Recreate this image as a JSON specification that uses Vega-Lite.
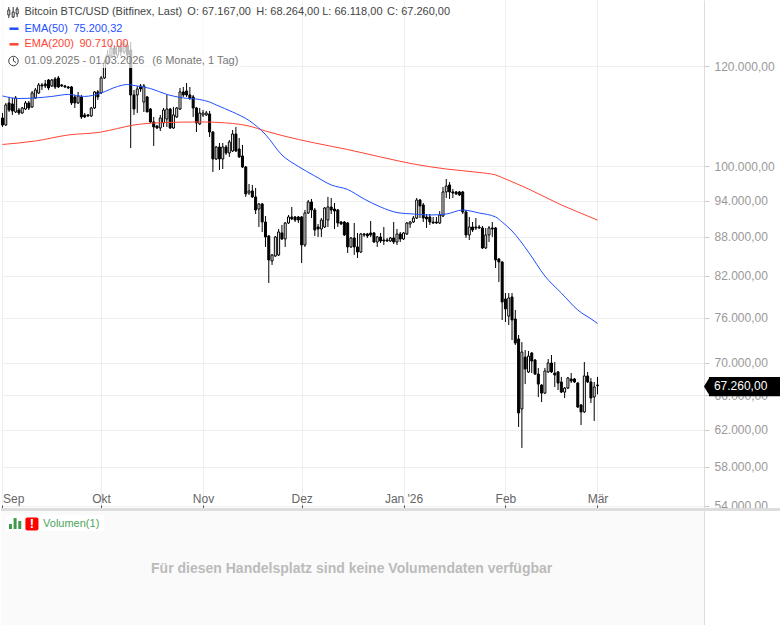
{"$schema":"https://vega.github.io/schema/vega-lite/v6.json","width":703,"height":625,"padding":0,"background":"#ffffff","config":{"view":{"stroke":null},"font":"Liberation Sans","axis":{"labelFont":"Liberation Sans"},"scale":{"continuousPadding":0}},
"datasets":{"candles":[
{"date":"2025-09-01","open":109200,"high":110190,"low":107430,"close":107820},
{"date":"2025-09-02","open":107820,"high":112210,"low":107620,"close":111810},
{"date":"2025-09-03","open":112210,"high":113450,"low":110390,"close":110790},
{"date":"2025-09-04","open":112010,"high":113240,"low":109800,"close":110590},
{"date":"2025-09-05","open":110390,"high":113650,"low":110190,"close":113240},
{"date":"2025-09-06","open":110790,"high":111200,"low":109800,"close":110190},
{"date":"2025-09-07","open":110190,"high":111400,"low":110000,"close":111200},
{"date":"2025-09-08","open":110990,"high":112620,"low":110790,"close":112210},
{"date":"2025-09-09","open":112210,"high":112620,"low":110790,"close":111200},
{"date":"2025-09-10","open":111400,"high":114680,"low":111200,"close":114270},
{"date":"2025-09-11","open":113240,"high":115310,"low":113030,"close":114890},
{"date":"2025-09-12","open":114270,"high":116360,"low":114070,"close":115940},
{"date":"2025-09-13","open":115940,"high":116360,"low":114890,"close":115730},
{"date":"2025-09-14","open":116150,"high":116990,"low":115310,"close":115730},
{"date":"2025-09-15","open":116990,"high":117200,"low":114890,"close":115310},
{"date":"2025-09-16","open":115730,"high":117200,"low":115520,"close":116990},
{"date":"2025-09-17","open":117200,"high":117630,"low":115100,"close":115520},
{"date":"2025-09-18","open":117420,"high":117850,"low":115310,"close":115520},
{"date":"2025-09-19","open":115940,"high":116150,"low":115520,"close":115730},
{"date":"2025-09-20","open":115730,"high":115940,"low":115310,"close":115520},
{"date":"2025-09-21","open":115520,"high":115730,"low":115100,"close":115310},
{"date":"2025-09-22","open":115520,"high":115730,"low":111810,"close":112210},
{"date":"2025-09-23","open":113450,"high":113860,"low":111200,"close":112210},
{"date":"2025-09-24","open":112210,"high":114480,"low":112010,"close":113650},
{"date":"2025-09-25","open":113450,"high":113860,"low":109000,"close":109400},
{"date":"2025-09-26","open":109800,"high":110190,"low":109200,"close":109400},
{"date":"2025-09-27","open":109800,"high":110000,"low":109400,"close":109600},
{"date":"2025-09-28","open":109600,"high":111400,"low":109400,"close":111200},
{"date":"2025-09-29","open":111200,"high":114680,"low":110990,"close":114480},
{"date":"2025-09-30","open":114480,"high":114890,"low":112820,"close":113450},
{"date":"2025-10-01","open":114270,"high":117850,"low":114070,"close":117420},
{"date":"2025-10-02","open":117420,"high":121310,"low":117200,"close":120650},
{"date":"2025-10-03","open":120650,"high":123530,"low":120220,"close":122420},
{"date":"2025-10-04","open":122200,"high":124870,"low":121760,"close":123980},
{"date":"2025-10-05","open":123980,"high":124650,"low":122200,"close":122640},
{"date":"2025-10-06","open":122420,"high":125800,"low":121760,"close":124420},
{"date":"2025-10-07","open":124420,"high":125330,"low":122200,"close":123090},
{"date":"2025-10-08","open":123090,"high":125800,"low":122640,"close":124870},
{"date":"2025-10-09","open":124650,"high":125330,"low":121310,"close":122420},
{"date":"2025-10-10","open":123530,"high":125330,"low":103410,"close":113860},
{"date":"2025-10-11","open":113860,"high":114890,"low":109800,"close":110990},
{"date":"2025-10-12","open":113860,"high":115730,"low":110190,"close":115100},
{"date":"2025-10-13","open":115730,"high":116150,"low":114480,"close":115100},
{"date":"2025-10-14","open":112410,"high":116150,"low":110390,"close":115730},
{"date":"2025-10-15","open":113450,"high":113650,"low":110390,"close":110390},
{"date":"2025-10-16","open":110990,"high":111200,"low":108210,"close":108410},
{"date":"2025-10-17","open":108410,"high":109400,"low":103790,"close":107430},
{"date":"2025-10-18","open":107620,"high":107820,"low":107040,"close":107230},
{"date":"2025-10-19","open":107230,"high":109800,"low":106650,"close":109200},
{"date":"2025-10-20","open":108210,"high":111200,"low":107430,"close":110790},
{"date":"2025-10-21","open":109000,"high":113860,"low":107430,"close":110990},
{"date":"2025-10-22","open":110990,"high":111200,"low":107040,"close":107230},
{"date":"2025-10-23","open":107230,"high":111400,"low":107040,"close":109800},
{"date":"2025-10-24","open":109400,"high":111400,"low":109200,"close":111200},
{"date":"2025-10-25","open":110990,"high":115310,"low":110790,"close":114480},
{"date":"2025-10-26","open":114480,"high":115520,"low":113450,"close":113860},
{"date":"2025-10-27","open":114680,"high":116360,"low":113450,"close":113860},
{"date":"2025-10-28","open":113860,"high":115520,"low":112820,"close":113240},
{"date":"2025-10-29","open":113450,"high":113860,"low":109400,"close":111200},
{"date":"2025-10-30","open":111200,"high":111400,"low":106450,"close":108210},
{"date":"2025-10-31","open":108020,"high":111200,"low":107820,"close":110190},
{"date":"2025-11-01","open":109800,"high":110790,"low":109400,"close":110190},
{"date":"2025-11-02","open":109800,"high":110590,"low":109600,"close":110190},
{"date":"2025-11-03","open":110000,"high":110590,"low":105500,"close":106450},
{"date":"2025-11-04","open":106450,"high":106650,"low":99000,"close":101370},
{"date":"2025-11-05","open":101370,"high":103790,"low":101180,"close":103600},
{"date":"2025-11-06","open":103600,"high":104350,"low":99360,"close":101370},
{"date":"2025-11-07","open":101370,"high":104350,"low":99540,"close":103600},
{"date":"2025-11-08","open":103600,"high":103980,"low":102110,"close":102480},
{"date":"2025-11-09","open":102480,"high":104920,"low":101740,"close":104540},
{"date":"2025-11-10","open":102850,"high":106840,"low":102660,"close":106070},
{"date":"2025-11-11","open":106070,"high":107430,"low":102660,"close":102850},
{"date":"2025-11-12","open":103220,"high":105310,"low":101550,"close":101740},
{"date":"2025-11-13","open":101920,"high":103980,"low":99720,"close":99910},
{"date":"2025-11-14","open":99910,"high":100090,"low":94620,"close":95130},
{"date":"2025-11-15","open":95300,"high":96870,"low":94960,"close":95650},
{"date":"2025-11-16","open":95650,"high":96700,"low":94440,"close":94620},
{"date":"2025-11-17","open":94620,"high":96170,"low":91730,"close":92400},
{"date":"2025-11-18","open":92570,"high":93590,"low":89600,"close":93420},
{"date":"2025-11-19","open":93420,"high":93590,"low":88790,"close":90410},
{"date":"2025-11-20","open":90410,"high":91400,"low":86410,"close":87990},
{"date":"2025-11-21","open":88150,"high":88310,"low":80940,"close":84390},
{"date":"2025-11-22","open":84240,"high":85310,"low":83630,"close":85160},
{"date":"2025-11-23","open":85000,"high":88150,"low":84850,"close":87990},
{"date":"2025-11-24","open":85160,"high":89270,"low":85000,"close":88790},
{"date":"2025-11-25","open":88630,"high":89930,"low":87510,"close":87670},
{"date":"2025-11-26","open":87670,"high":90410,"low":86410,"close":90250},
{"date":"2025-11-27","open":90250,"high":91570,"low":90090,"close":91240},
{"date":"2025-11-28","open":91240,"high":92910,"low":90740,"close":90910},
{"date":"2025-11-29","open":91240,"high":91400,"low":90410,"close":90740},
{"date":"2025-11-30","open":91240,"high":91400,"low":90250,"close":90740},
{"date":"2025-12-01","open":91240,"high":91400,"low":83930,"close":86720},
{"date":"2025-12-02","open":86720,"high":92400,"low":86410,"close":91900},
{"date":"2025-12-03","open":91900,"high":94100,"low":91730,"close":93760},
{"date":"2025-12-04","open":93760,"high":94270,"low":91070,"close":92400},
{"date":"2025-12-05","open":92400,"high":92740,"low":88150,"close":89110},
{"date":"2025-12-06","open":89600,"high":90090,"low":87990,"close":89270},
{"date":"2025-12-07","open":89270,"high":91070,"low":87990,"close":90740},
{"date":"2025-12-08","open":89600,"high":92910,"low":89440,"close":92740},
{"date":"2025-12-09","open":90740,"high":94620,"low":89600,"close":92910},
{"date":"2025-12-10","open":92910,"high":94440,"low":91730,"close":92400},
{"date":"2025-12-11","open":92570,"high":93590,"low":89270,"close":92230},
{"date":"2025-12-12","open":92400,"high":92570,"low":89600,"close":90250},
{"date":"2025-12-13","open":90410,"high":90580,"low":89930,"close":90090},
{"date":"2025-12-14","open":90410,"high":90580,"low":88150,"close":88310},
{"date":"2025-12-15","open":90250,"high":90410,"low":85470,"close":86410},
{"date":"2025-12-16","open":86410,"high":87990,"low":86250,"close":87830},
{"date":"2025-12-17","open":87830,"high":90250,"low":85160,"close":86410},
{"date":"2025-12-18","open":86410,"high":88630,"low":84690,"close":85620},
{"date":"2025-12-19","open":85620,"high":88630,"low":85470,"close":88470},
{"date":"2025-12-20","open":88470,"high":88630,"low":87990,"close":88310},
{"date":"2025-12-21","open":88470,"high":88630,"low":87830,"close":88150},
{"date":"2025-12-22","open":88630,"high":90580,"low":87990,"close":88310},
{"date":"2025-12-23","open":88630,"high":88790,"low":87040,"close":87190},
{"date":"2025-12-24","open":87190,"high":88150,"low":86410,"close":87990},
{"date":"2025-12-25","open":87990,"high":88630,"low":87040,"close":87350},
{"date":"2025-12-26","open":87510,"high":89600,"low":86720,"close":87350},
{"date":"2025-12-27","open":87510,"high":87830,"low":87190,"close":87350},
{"date":"2025-12-28","open":87350,"high":87990,"low":87190,"close":87830},
{"date":"2025-12-29","open":87830,"high":90410,"low":86880,"close":87190},
{"date":"2025-12-30","open":87190,"high":89270,"low":86720,"close":88470},
{"date":"2025-12-31","open":88470,"high":88790,"low":87190,"close":87670},
{"date":"2026-01-01","open":87670,"high":88790,"low":87510,"close":88630},
{"date":"2026-01-02","open":88470,"high":90410,"low":88310,"close":90250},
{"date":"2026-01-03","open":90090,"high":90580,"low":89440,"close":90410},
{"date":"2026-01-04","open":90410,"high":91400,"low":90250,"close":91070},
{"date":"2026-01-05","open":91070,"high":94440,"low":90910,"close":94100},
{"date":"2026-01-06","open":94100,"high":94270,"low":91070,"close":93080},
{"date":"2026-01-07","open":93250,"high":93590,"low":90410,"close":91070},
{"date":"2026-01-08","open":91240,"high":91730,"low":89440,"close":90910},
{"date":"2026-01-09","open":91240,"high":91730,"low":89930,"close":90410},
{"date":"2026-01-10","open":90410,"high":91240,"low":90090,"close":90250},
{"date":"2026-01-11","open":90410,"high":91240,"low":90090,"close":90250},
{"date":"2026-01-12","open":90250,"high":92230,"low":90090,"close":91570},
{"date":"2026-01-13","open":91400,"high":96350,"low":91240,"close":95480},
{"date":"2026-01-14","open":95480,"high":97750,"low":94440,"close":96520},
{"date":"2026-01-15","open":96700,"high":97220,"low":94270,"close":95480},
{"date":"2026-01-16","open":95480,"high":96000,"low":94440,"close":95300},
{"date":"2026-01-17","open":95480,"high":95650,"low":94960,"close":95130},
{"date":"2026-01-18","open":95480,"high":95650,"low":94790,"close":94960},
{"date":"2026-01-19","open":95480,"high":95650,"low":91730,"close":92070},
{"date":"2026-01-20","open":92070,"high":92400,"low":87830,"close":88310},
{"date":"2026-01-21","open":88310,"high":91240,"low":87510,"close":89600},
{"date":"2026-01-22","open":89600,"high":90410,"low":88790,"close":89110},
{"date":"2026-01-23","open":89600,"high":91070,"low":89110,"close":89440},
{"date":"2026-01-24","open":89600,"high":89930,"low":89270,"close":89440},
{"date":"2026-01-25","open":89440,"high":89760,"low":86090,"close":86250},
{"date":"2026-01-26","open":86250,"high":89440,"low":86090,"close":88310},
{"date":"2026-01-27","open":88310,"high":89760,"low":87190,"close":89440},
{"date":"2026-01-28","open":89440,"high":90410,"low":87990,"close":89270},
{"date":"2026-01-29","open":89440,"high":89600,"low":83170,"close":84390},
{"date":"2026-01-30","open":84540,"high":84690,"low":81090,"close":84080},
{"date":"2026-01-31","open":84080,"high":84240,"low":75680,"close":78190},
{"date":"2026-02-01","open":78620,"high":79480,"low":75400,"close":77210},
{"date":"2026-02-02","open":76220,"high":79480,"low":75000,"close":78770},
{"date":"2026-02-03","open":78910,"high":79480,"low":72980,"close":75680},
{"date":"2026-02-04","open":75820,"high":77070,"low":72320,"close":72580},
{"date":"2026-02-05","open":73120,"high":73650,"low":62330,"close":63930},
{"date":"2026-02-06","open":64400,"high":72710,"low":60000,"close":71410},
{"date":"2026-02-07","open":70750,"high":71670,"low":67370,"close":69240},
{"date":"2026-02-08","open":68870,"high":71540,"low":68740,"close":70880},
{"date":"2026-02-09","open":71280,"high":71410,"low":68740,"close":70250},
{"date":"2026-02-10","open":70380,"high":70510,"low":68490,"close":68610},
{"date":"2026-02-11","open":68610,"high":69370,"low":65800,"close":67370},
{"date":"2026-02-12","open":67250,"high":67370,"low":65210,"close":66280},
{"date":"2026-02-13","open":66280,"high":69370,"low":66160,"close":68990},
{"date":"2026-02-14","open":68870,"high":70510,"low":68740,"close":70000},
{"date":"2026-02-15","open":70000,"high":71020,"low":68740,"close":68870},
{"date":"2026-02-16","open":68740,"high":70120,"low":67020,"close":68490},
{"date":"2026-02-17","open":68870,"high":68990,"low":66650,"close":67500},
{"date":"2026-02-18","open":67630,"high":68250,"low":66280,"close":66400},
{"date":"2026-02-19","open":66400,"high":67020,"low":65690,"close":66890},
{"date":"2026-02-20","open":66890,"high":68250,"low":66770,"close":68120},
{"date":"2026-02-21","open":68000,"high":68740,"low":67500,"close":67750},
{"date":"2026-02-22","open":68000,"high":68120,"low":67500,"close":67630},
{"date":"2026-02-23","open":67500,"high":67630,"low":64520,"close":64620},
{"date":"2026-02-24","open":64860,"high":64980,"low":62550,"close":64050},
{"date":"2026-02-25","open":64050,"high":70120,"low":63930,"close":68370},
{"date":"2026-02-26","open":68370,"high":68870,"low":67500,"close":67630},
{"date":"2026-02-27","open":67630,"high":68120,"low":65090,"close":65690},
{"date":"2026-02-28","open":65810,"high":67630,"low":63010,"close":67020},
{"date":"2026-03-01","open":67167,"high":68264,"low":66118,"close":67260}
],
"ema50":[
{"date":"2025-09-01","price":113650},{"date":"2025-09-06","price":113130},{"date":"2025-09-11","price":113240},{"date":"2025-09-16","price":113550},{"date":"2025-09-21","price":113960},{"date":"2025-09-26","price":113550},{"date":"2025-10-01","price":114270},{"date":"2025-10-06","price":115620},{"date":"2025-10-09","price":116040},{"date":"2025-10-11","price":115830},{"date":"2025-10-16","price":115200},{"date":"2025-10-21","price":113960},{"date":"2025-10-26","price":113240},{"date":"2025-10-31","price":112920},{"date":"2025-11-03","price":112410},{"date":"2025-11-05","price":111810},{"date":"2025-11-10","price":110390},{"date":"2025-11-15","price":108700},{"date":"2025-11-20","price":105970},{"date":"2025-11-25","price":102110},{"date":"2025-11-30","price":100000},{"date":"2025-12-05","price":98290},{"date":"2025-12-10","price":96700},{"date":"2025-12-15","price":95900},{"date":"2025-12-20","price":94270},{"date":"2025-12-25","price":92910},{"date":"2025-12-30","price":91980},{"date":"2026-01-04","price":91730},{"date":"2026-01-09","price":91570},{"date":"2026-01-14","price":91730},{"date":"2026-01-19","price":92400},{"date":"2026-01-24","price":91900},{"date":"2026-01-29","price":91240},{"date":"2026-01-31","price":90410},{"date":"2026-02-03","price":88950},{"date":"2026-02-08","price":85620},{"date":"2026-02-13","price":81970},{"date":"2026-02-18","price":79480},{"date":"2026-02-23","price":77070},{"date":"2026-02-28","price":75540},{"date":"2026-03-01","price":75200}],
"ema200":[
{"date":"2025-09-01","price":104070},{"date":"2025-09-11","price":104730},{"date":"2025-09-21","price":105880},{"date":"2025-10-01","price":106450},{"date":"2025-10-06","price":107130},{"date":"2025-10-11","price":107820},{"date":"2025-10-21","price":108310},{"date":"2025-10-31","price":108410},{"date":"2025-11-10","price":108110},{"date":"2025-11-15","price":107620},{"date":"2025-11-20","price":106650},{"date":"2025-11-25","price":105780},{"date":"2025-12-05","price":104350},{"date":"2025-12-15","price":103120},{"date":"2025-12-25","price":101740},{"date":"2026-01-04","price":100450},{"date":"2026-01-14","price":99540},{"date":"2026-01-24","price":98910},{"date":"2026-01-29","price":98470},{"date":"2026-02-01","price":97750},{"date":"2026-02-08","price":96000},{"date":"2026-02-18","price":93250},{"date":"2026-02-28","price":90950},{"date":"2026-03-01","price":90710}]},
"encoding":{
"x":{"field":"date","type":"temporal","scale":{"type":"utc","padding":0,"domain":["2025-08-31T13:04:00Z","2026-04-02T09:36:00Z"]},"axis":{"orient":"top","offset":-508,"values":["2025-09-01","2025-10-01","2025-11-01","2025-12-01","2026-01-01","2026-02-01","2026-03-01"],"labelExpr":"{'8':'Sep','9':'Okt','10':'Nov','11':'Dez','0':\"Jan '26\",'1':'Feb','2':'Mär'}[utcmonth(datum.value)]","title":null,"domain":false,"ticks":true,"tickSize":3,"tickColor":"#555555","labelColor":"#666666","labelFontSize":12,"labelPadding":0,"labelFlush":5,"labelOverlap":false,"grid":true,"gridColor":"#eeeeee"}},
"y":{"field":"price","type":"quantitative","scale":{"type":"log","domain":[43510,135270],"nice":false,"zero":false},"axis":{"orient":"right","values":[120000,100000,94000,88000,82000,76000,70000,66000,62000,58000,54000],"labelExpr":"replace(replace(replace(format(datum.value,',.2f'),',','#'),'.',','),'#','.')","title":null,"domain":true,"domainColor":"#dddddd","ticks":true,"tickSize":5,"tickColor":"#cccccc","labelColor":"#999999","labelFontSize":12,"labelPadding":5,"labelOverlap":false,"labelBound":false,"grid":true,"gridColor":"#eeeeee"}}},
"layer":[
{"data":{"name":"candles"},"mark":{"type":"rule","color":"#000000","strokeWidth":1},"encoding":{"y":{"field":"low","type":"quantitative","scale":{"type":"log","domain":[43510,135270],"nice":false,"zero":false}},"y2":{"field":"high"}}},
{"data":{"name":"candles"},"mark":{"type":"bar","size":2,"stroke":"#000000","strokeWidth":1,"orient":"vertical"},"encoding":{"y":{"field":"open","type":"quantitative","scale":{"type":"log","domain":[43510,135270],"nice":false,"zero":false}},"y2":{"field":"close"},"fill":{"condition":{"test":"datum.close>=datum.open","value":"#ffffff"},"value":"#000000"}}},
{"data":{"name":"ema200"},"mark":{"type":"line","color":"#ff4433","strokeWidth":1,"interpolate":"monotone"}},
{"data":{"name":"ema50"},"mark":{"type":"line","color":"#1f4fff","strokeWidth":1,"interpolate":"monotone"}},
{"data":{"values":[
{"date":"2025-08-31T13:04:00Z","date2":"2026-04-02T09:36:00Z","price":53510,"price2":43510,"part":"panel"},
{"date":"2025-09-02","date2":"2025-10-02","price":53150,"price2":51600,"part":"label"},
{"date":"2025-08-31T13:04:00Z","date2":"2026-04-26T18:43:00Z","price":53800,"price2":53510,"part":"separator"},
{"date":"2026-04-02T18:00:00Z","date2":"2026-04-26T18:43:00Z","price":53510,"price2":52400,"part":"strip"},
{"date":"2025-08-31T13:04:00Z","date2":"2025-11-12T15:00:00Z","price":119560,"price2":135270,"part":"overlay"},
{"date":"2026-04-03T22:00:00Z","date2":"2026-04-26T18:43:00Z","price":68250,"price2":65900,"part":"tag"}]},
"mark":{"type":"rect"},"encoding":{"x2":{"field":"date2"},"y2":{"field":"price2"},"fill":{"field":"part","type":"nominal","legend":null,"scale":{"domain":["panel","label","separator","strip","overlay","tag"],"range":["#fafafa","#ffffff","#dddddd","#ffffff","rgba(255,255,255,0.72)","#000000"]}}}},
{"data":{"values":[{"date":"2026-04-03T07:00:00Z","price":67090}]},"mark":{"type":"point","filled":true,"color":"#000000","opacity":1,"size":36,"shape":"M-1,0 L1,-3.2 L1,3.2 Z"}},
{"data":{"values":[
{"date":"2025-09-03T03:00:00Z","date2":"2025-09-05T21:00:00Z","price":128400,"kind":"ema50"},
{"date":"2025-09-03T03:00:00Z","date2":"2025-09-05T21:00:00Z","price":124820,"kind":"ema200"}]},
"mark":{"type":"rule","strokeWidth":2.5},"encoding":{"x2":{"field":"date2"},"color":{"field":"kind","type":"nominal","legend":null,"scale":{"domain":["main","ema50","ema200","range"],"range":["#444444","#1f4fff","#ff4433","#777777"]}}}},
{"data":{"values":[
{"date":"2025-09-02T22:00:00Z","low":130920,"high":133560,"open":131640,"close":132840},
{"date":"2025-09-04T06:00:00Z","low":130920,"high":133560,"open":131150,"close":132350},
{"date":"2025-09-05T11:00:00Z","low":131150,"high":133560,"open":131880,"close":133080}]},
"mark":{"type":"rule","color":"#333333","strokeWidth":1},"encoding":{"y":{"field":"low","type":"quantitative","scale":{"type":"log","domain":[43510,135270],"nice":false,"zero":false}},"y2":{"field":"high"}}},
{"data":{"values":[
{"date":"2025-09-02T22:00:00Z","open":131640,"close":132840},
{"date":"2025-09-04T06:00:00Z","open":131150,"close":132350},
{"date":"2025-09-05T11:00:00Z","open":131880,"close":133080}]},
"mark":{"type":"bar","size":2,"fill":"#ffffff","stroke":"#333333","strokeWidth":1,"orient":"vertical"},"encoding":{"y":{"field":"open","type":"quantitative","scale":{"type":"log","domain":[43510,135270],"nice":false,"zero":false}},"y2":{"field":"close"}}},
{"data":{"values":[{"date":"2025-09-04T08:00:00Z","price":121090}]},"mark":{"type":"point","filled":false,"stroke":"#444444","strokeWidth":1,"opacity":1,"size":90}},
{"data":{"values":[{"date":"2025-09-04T08:00:00Z","price":121090}]},"mark":{"type":"point","filled":false,"stroke":"#444444","strokeWidth":1,"opacity":1,"size":16,"shape":"M0,-1.8 L0,0 L1.3,0.8"}},
{"data":{"values":[
{"date":"2025-09-07T16:29:00Z","price":132240,"text":"Bitcoin BTC/USD (Bitfinex, Last)","kind":"main"},
{"date":"2025-10-27T05:30:00Z","price":132240,"text":"O: 67.167,00","kind":"main"},
{"date":"2025-11-17T05:00:00Z","price":132240,"text":"H: 68.264,00","kind":"main"},
{"date":"2025-12-07T06:00:00Z","price":132240,"text":"L: 66.118,00","kind":"main"},
{"date":"2025-12-27T00:00:00Z","price":132240,"text":"C: 67.260,00","kind":"main"},
{"date":"2025-09-07T16:29:00Z","price":128400,"text":"EMA(50)","kind":"ema50"},
{"date":"2025-09-22T14:00:00Z","price":128400,"text":"75.200,32","kind":"ema50"},
{"date":"2025-09-07T16:29:00Z","price":124820,"text":"EMA(200)","kind":"ema200"},
{"date":"2025-09-24T10:00:00Z","price":124820,"text":"90.710,00","kind":"ema200"},
{"date":"2025-09-07T16:29:00Z","price":121090,"text":"01.09.2025 - 01.03.2026","kind":"range"},
{"date":"2025-10-16T14:00:00Z","price":121090,"text":"(6 Monate, 1 Tag)","kind":"range"}]},
"mark":{"type":"text","align":"left","baseline":"middle","fontSize":11,"font":"Liberation Sans"},"encoding":{"text":{"field":"text"},"color":{"field":"kind","type":"nominal","legend":null,"scale":{"domain":["main","ema50","ema200","range"],"range":["#444444","#1f4fff","#ff4433","#777777"]}}}},
{"data":{"values":[{"date":"2026-04-05T10:00:00Z","price":67090,"text":"67.260,00"}]},"mark":{"type":"text","align":"left","baseline":"middle","fontSize":12,"color":"#ffffff","font":"Liberation Sans"},"encoding":{"text":{"field":"text"}}},
{"data":{"values":[
{"date":"2025-09-03T10:00:00Z","low":51790,"high":52260},
{"date":"2025-09-04T20:00:00Z","low":51790,"high":52830},
{"date":"2025-09-06T06:00:00Z","low":51790,"high":52550}]},
"mark":{"type":"bar","size":3,"color":"#3f9b4a","orient":"vertical"},"encoding":{"y":{"field":"low","type":"quantitative","scale":{"type":"log","domain":[43510,135270],"nice":false,"zero":false}},"y2":{"field":"high"}}},
{"data":{"values":[{"date":"2025-09-09T23:00:00Z","price":52260}]},"mark":{"type":"point","filled":true,"color":"#ff0000","opacity":1,"shape":"M-0.7,-1 L0.7,-1 Q1,-1 1,-0.7 L1,0.7 Q1,1 0.7,1 L-0.7,1 Q-1,1 -1,0.7 L-1,-0.7 Q-1,-1 -0.7,-1 Z","size":170}},
{"data":{"values":[{"date":"2025-09-09T23:00:00Z","price":52260,"text":"!"}]},"mark":{"type":"text","align":"center","baseline":"middle","fontSize":13,"fontWeight":"bold","color":"#ffffff","font":"Liberation Sans"},"encoding":{"text":{"field":"text"}}},
{"data":{"values":[{"date":"2025-09-13T08:00:00Z","price":52260,"text":"Volumen(1)"}]},"mark":{"type":"text","align":"left","baseline":"middle","fontSize":11,"color":"#4ca55a","font":"Liberation Sans"},"encoding":{"text":{"field":"text"}}},
{"data":{"values":[{"date":"2025-12-16T05:00:00Z","price":48200,"text":"Für diesen Handelsplatz sind keine Volumendaten verfügbar"}]},"mark":{"type":"text","align":"center","baseline":"middle","fontSize":14,"fontWeight":"bold","color":"#bbbbbb","font":"Liberation Sans"},"encoding":{"text":{"field":"text"}}}
]}
